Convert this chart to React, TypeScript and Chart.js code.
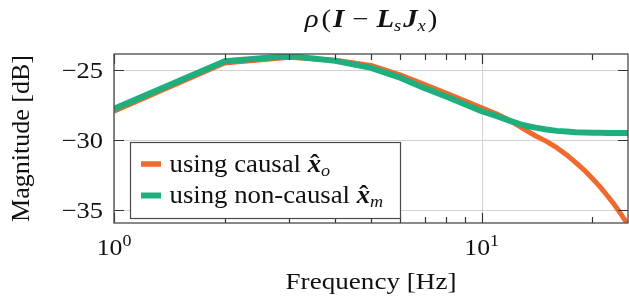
import { useEffect, useRef } from "react";
import { Chart, registerables } from "chart.js";

Chart.register(...registerables);

// ---- data ----
const FREQS = [1, 2, 3, 4, 5, 6, 7, 8, 9, 10, 11, 12, 13, 14, 15, 16, 17, 18, 19, 20, 21, 22, 23, 24, 25];
const CAUSAL = [-27.95, -24.5, -24.1, -24.3, -24.68, -25.35, -26.05, -26.65, -27.2, -27.7, -28.15, -28.65, -29.2, -29.7, -30.1, -30.55, -31.05, -31.6, -32.15, -32.75, -33.35, -34.0, -34.65, -35.35, -36.05];
const NONCAUSAL = [-27.78, -24.38, -24.0, -24.35, -24.85, -25.55, -26.3, -26.9, -27.45, -27.95, -28.3, -28.65, -28.95, -29.12, -29.25, -29.35, -29.4, -29.45, -29.47, -29.48, -29.49, -29.5, -29.5, -29.5, -29.5];
const Y_TICKS = [-25, -30, -35];
const X_MAJOR = [1, 10];
const X_MAJOR_EXP = ["0", "1"];
const X_MINOR = [2, 3, 4, 5, 6, 7, 8, 9, 20];
const LEGEND_LABELS = ["using causal ", "using non-causal "];
const LEGEND_SUBS = ["o", "m"];

const ORANGE = "#EF6A2C";
const GREEN = "#1FAF7E";
const FRAME = "#4a4a4a";
const GRID = "#d2d2d2";
const FAMILY = "'Liberation Serif', 'Times New Roman', serif";

type Part = { t: string; font: string; dy?: number; dx?: number };

function drawRun(ctx: CanvasRenderingContext2D, parts: Part[], x: number, y: number, align: "left" | "center" | "right", sx: number) {
  let w = 0;
  for (const p of parts) {
    ctx.font = p.font;
    w += ctx.measureText(p.t).width * sx + (p.dx || 0);
  }
  let cx = align === "left" ? x : align === "center" ? x - w / 2 : x - w;
  const pos: number[] = [];
  for (const p of parts) {
    ctx.font = p.font;
    cx += p.dx || 0;
    pos.push(cx);
    ctx.save();
    ctx.translate(cx, y + (p.dy || 0));
    ctx.scale(sx, 1);
    ctx.textAlign = "left";
    ctx.textBaseline = "alphabetic";
    ctx.fillText(p.t, 0, 0);
    ctx.restore();
    cx += ctx.measureText(p.t).width * sx;
  }
  return pos;
}

const deco = {
  id: "deco",
  beforeDatasetsDraw(chart: any) {
    const { ctx, chartArea: a, scales } = chart;
    const xs = scales.x, ys = scales.y;
    ctx.save();
    ctx.strokeStyle = GRID;
    ctx.lineWidth = 1;
    for (const v of Y_TICKS) {
      const y = Math.round(ys.getPixelForValue(v)) + 0.5;
      ctx.beginPath();
      ctx.moveTo(a.left, y);
      ctx.lineTo(a.right, y);
      ctx.stroke();
    }
    for (const v of X_MAJOR) {
      const x = Math.round(xs.getPixelForValue(v)) + 0.5;
      ctx.beginPath();
      ctx.moveTo(x, a.top);
      ctx.lineTo(x, a.bottom);
      ctx.stroke();
    }
    ctx.restore();
  },
  afterDatasetsDraw(chart: any) {
    const { ctx, chartArea: a, scales } = chart;
    const xs = scales.x, ys = scales.y;
    ctx.save();
    // ticks
    ctx.strokeStyle = "#333";
    ctx.lineWidth = 1.2;
    for (const v of Y_TICKS) {
      const y = Math.round(ys.getPixelForValue(v)) + 0.5;
      ctx.beginPath();
      ctx.moveTo(a.left, y); ctx.lineTo(a.left + 10, y);
      ctx.moveTo(a.right, y); ctx.lineTo(a.right - 10, y);
      ctx.stroke();
    }
    for (const v of X_MAJOR) {
      const x = Math.round(xs.getPixelForValue(v)) + 0.5;
      ctx.beginPath();
      ctx.moveTo(x, a.top); ctx.lineTo(x, a.top + 10);
      ctx.moveTo(x, a.bottom); ctx.lineTo(x, a.bottom - 10);
      ctx.stroke();
    }
    for (const v of X_MINOR) {
      const x = Math.round(xs.getPixelForValue(v)) + 0.5;
      ctx.beginPath();
      ctx.moveTo(x, a.top); ctx.lineTo(x, a.top + 6);
      ctx.moveTo(x, a.bottom); ctx.lineTo(x, a.bottom - 6);
      ctx.stroke();
    }
    // frame
    ctx.strokeStyle = FRAME;
    ctx.lineWidth = 1.3;
    ctx.strokeRect(a.left, a.top, a.right - a.left, a.bottom - a.top);

    ctx.fillStyle = "#111";
    // y tick labels
    for (const v of Y_TICKS) {
      const y = ys.getPixelForValue(v);
      drawRun(ctx, [{ t: "\u2212" + Math.abs(v), font: `23px ${FAMILY}` }], a.left - 11, y + 7.8, "right", 1.15);
    }
    // x tick labels
    X_MAJOR.forEach((v, i) => {
      const x = xs.getPixelForValue(v);
      drawRun(ctx, [
        { t: "10", font: `23px ${FAMILY}` },
        { t: X_MAJOR_EXP[i], font: `16px ${FAMILY}`, dy: -9 },
      ], x, 255, "center", 1.12);
    });
    // axis titles
    drawRun(ctx, [{ t: "Frequency [Hz]", font: `24px ${FAMILY}` }], (a.left + a.right) / 2, 289, "center", 1.13);
    ctx.save();
    ctx.translate(29, (a.top + a.bottom) / 2);
    ctx.rotate(-Math.PI / 2);
    ctx.font = `26px ${FAMILY}`;
    ctx.textAlign = "center";
    ctx.textBaseline = "alphabetic";
    ctx.fillText("Magnitude [dB]", 0, 0);
    ctx.restore();

    // title  rho(I - L_s J_x)
    const tf = 25;
    const reg = `${tf}px ${FAMILY}`;
    const it = `italic ${tf}px ${FAMILY}`;
    const bi = `italic bold ${tf}px ${FAMILY}`;
    const sub = `italic 16px ${FAMILY}`;
    drawRun(ctx, [
      { t: "\u03C1", font: it },
      { t: "(", font: reg, dx: 3 },
      { t: "I", font: bi, dx: 2 },
      { t: "\u2212", font: reg, dx: 8 },
      { t: "L", font: bi, dx: 8 },
      { t: "s", font: sub, dy: 4 },
      { t: "J", font: bi, dx: 2 },
      { t: "x", font: sub, dy: 4 },
      { t: ")", font: reg, dx: 2 },
    ], (a.left + a.right) / 2, 27, "center", 1.15);

    // legend
    const lx = 130.5, ly = 142.5, lw = 270, lh = 76;
    ctx.fillStyle = "#fff";
    ctx.fillRect(lx, ly, lw, lh);
    ctx.strokeStyle = FRAME;
    ctx.lineWidth = 1.2;
    ctx.strokeRect(lx, ly, lw, lh);
    const rows = [
      { c: ORANGE, w: 5.5, y: 164 },
      { c: GREEN, w: 6, y: 195.5 },
    ];
    rows.forEach((r, i) => {
      ctx.strokeStyle = r.c;
      ctx.lineWidth = r.w;
      ctx.beginPath();
      ctx.moveTo(141, r.y);
      ctx.lineTo(161, r.y);
      ctx.stroke();
      ctx.fillStyle = "#111";
      const lf = 25;
      const sx = 1.07;
      const pos = drawRun(ctx, [
        { t: LEGEND_LABELS[i], font: `${lf}px ${FAMILY}` },
        { t: "x", font: `italic bold ${lf}px ${FAMILY}` },
        { t: LEGEND_SUBS[i], font: `italic 17px ${FAMILY}`, dy: 4 },
      ], 169.5, r.y + 7.5, "left", sx);
      // hat over x
      ctx.font = `bold ${lf}px ${FAMILY}`;
      ctx.save();
      ctx.translate(pos[1] + 2.5, r.y + 7.5);
      ctx.scale(sx, 1);
      ctx.fillText("\u02C6", 0, 0);
      ctx.restore();
    });
    ctx.restore();
  },
};

export default function App() {
  const ref = useRef<HTMLCanvasElement | null>(null);
  useEffect(() => {
    if (!ref.current) return;
    const chart = new Chart(ref.current, {
      type: "line",
      data: {
        datasets: [
          {
            label: "using non-causal",
            data: FREQS.map((f, i) => ({ x: f, y: NONCAUSAL[i] })),
            borderColor: GREEN,
            borderWidth: 6,
            pointRadius: 0,
            tension: 0,
            clip: 0,
            borderCapStyle: "butt",
            borderJoinStyle: "round",
          },
          {
            label: "using causal",
            data: FREQS.map((f, i) => ({ x: f, y: CAUSAL[i] })),
            borderColor: ORANGE,
            borderWidth: 5,
            pointRadius: 0,
            tension: 0,
            clip: 0,
            borderCapStyle: "butt",
            borderJoinStyle: "round",
          },
        ],
      },
      options: {
        animation: false,
        responsive: false,
        maintainAspectRatio: false,
        layout: { padding: { top: 54, right: 1, left: 0, bottom: 0 } },
        plugins: { legend: { display: false }, title: { display: false }, tooltip: { enabled: false } },
        scales: {
          x: {
            type: "logarithmic",
            min: 1,
            max: 25,
            ticks: { display: false },
            grid: { display: false },
            border: { display: false },
            afterFit: (s: any) => { s.height = 81; },
          },
          y: {
            type: "linear",
            min: -35.93,
            max: -23.86,
            ticks: { display: false },
            grid: { display: false },
            border: { display: false },
            afterFit: (s: any) => { s.width = 114; },
          },
        },
      },
      plugins: [deco],
    } as any);
    return () => chart.destroy();
  }, []);
  return (
    <div style={{ position: "fixed", left: 0, top: 0, width: 629, height: 304, background: "#fff" }}>
      <canvas ref={ref} width={629} height={304} style={{ width: 629, height: 304, display: "block" }} />
    </div>
  );
}
